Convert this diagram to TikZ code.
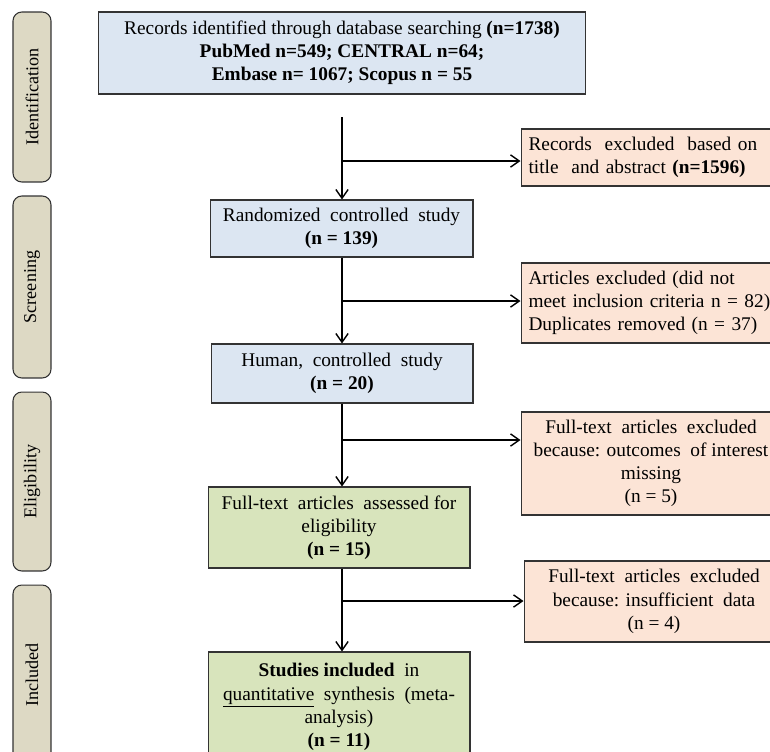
\documentclass[tikz,border=0pt]{standalone}
\usepackage{fontspec}
\setmainfont{Liberation Serif}
\usetikzlibrary{arrows.meta,positioning}

\definecolor{idblue}{HTML}{DCE6F2}
\definecolor{exclpeach}{HTML}{FCE4D6}
\definecolor{inclgreen}{HTML}{D8E4BC}
\definecolor{phasetan}{HTML}{DDD9C4}

\begin{document}
\begin{tikzpicture}[x=0.02cm, y=-0.02cm,
        font=\fontsize{11}{13.2}\selectfont,
        >={Straight Barb[length=5pt,width=7pt]},
        flowbox/.style={draw=black!80, line width=0.6pt, inner sep=0pt, align=center},
        exclbox/.style={flowbox, fill=exclpeach, minimum width=5.2cm},
        phasebox/.style={draw=black!80, line width=0.6pt, fill=phasetan, rounded corners=5pt,
            rotate=90, minimum height=0.76cm, inner sep=0pt, font=\fontsize{10.3}{12}\selectfont},
        flow/.style={->, line width=0.8pt}]
        \useasboundingbox (0,0) rectangle (770,751);
        \clip (0,0) rectangle (770,751);
        % Phase labels
        \foreach \name/\y/\h/\txt in {ident/97/3.4cm/Identification, screen/287/3.64cm/Screening,
                elig/481.5/3.58cm/Eligibility, incl/675/3.6cm/Included}
            \node[phasebox, minimum width=\h] (phase-\name) at (32,\y) {\txt};
        % Main boxes
        \node[flowbox, fill=idblue, minimum width=9.76cm, minimum height=1.64cm] (search) at (342,53)
            {Records identified through database searching \textbf{(n=1738)}\\
             \textbf{PubMed n=549; CENTRAL n=64;}\\ \textbf{Embase n= 1067; Scopus n = 55}};
        \node[flowbox, fill=idblue, minimum width=5.26cm, minimum height=1.14cm] (rct) at (341.5,228.5)
            {Randomized\ \ controlled\ \ study\\ \textbf{(n = 139)}};
        \node[flowbox, fill=idblue, minimum width=5.24cm, minimum height=1.18cm] (human) at (342,373.5)
            {Human,\ \ controlled\ \ study\\ \textbf{(n = 20)}};
        \node[flowbox, fill=inclgreen, minimum width=5.24cm, minimum height=1.62cm] (fulltext) at (339,527.5)
            {Full-text\ \ articles\ \ assessed for\\ eligibility\\ \textbf{(n = 15)}};
        \node[flowbox, fill=inclgreen, minimum width=5.24cm, minimum height=2.2cm] (meta) at (339,707)
            {\textbf{Studies included}\ \ in\\ \underline{quantitative}\ \ synthesis\ \ (meta-\\ analysis)\\ \textbf{(n = 11)}};
        % Exclusion boxes
        \node[exclbox, minimum height=1.14cm, text width=4.9cm, align=left, inner xsep=0.15cm] (recexcl) at (651,157.5)
            {Records\ \ excluded\ \ based on\\ title\ \ and abstract \textbf{(n=1596)}};
        \node[exclbox, minimum height=1.6cm, text width=4.9cm, align=left, inner xsep=0.15cm] (artexcl) at (651,303)
            {Articles excluded (did not\\ meet inclusion criteria n = 82)\\ Duplicates removed (n = 37)};
        \node[exclbox, minimum height=2.06cm] (ftexcl) at (651,463.5)
            {Full-text\ \ articles\ \ excluded\\ because: outcomes\ \ of interest\\ missing\\ (n = 5)};
        \node[exclbox, minimum height=1.62cm] (dataexcl) at (654,601.5)
            {Full-text\ \ articles\ \ excluded\\ because: insufficient\ \ data\\ (n = 4)};
        % Arrows
        \coordinate (start) at (342,117);
        \coordinate (split1) at (342,161);
        \coordinate (split2) at (342,301);
        \coordinate (split3) at (342,440);
        \coordinate (split4) at (342,601);
        \draw[flow] (start) -- (start |- rct.north);
        \draw[flow] (rct.south -| start) -- (start |- human.north);
        \draw[flow] (human.south) -- (human.south |- fulltext.north);
        \draw[flow] (fulltext.south -| start) -- (start |- meta.north);
        \draw[flow] (split1) -- (split1 -| recexcl.west);
        \draw[flow] (split2) -- (split2 -| artexcl.west);
        \draw[flow] (split3) -- (split3 -| ftexcl.west);
        \draw[flow] (split4) -- (split4 -| dataexcl.west);
    \end{tikzpicture}
\end{document}
